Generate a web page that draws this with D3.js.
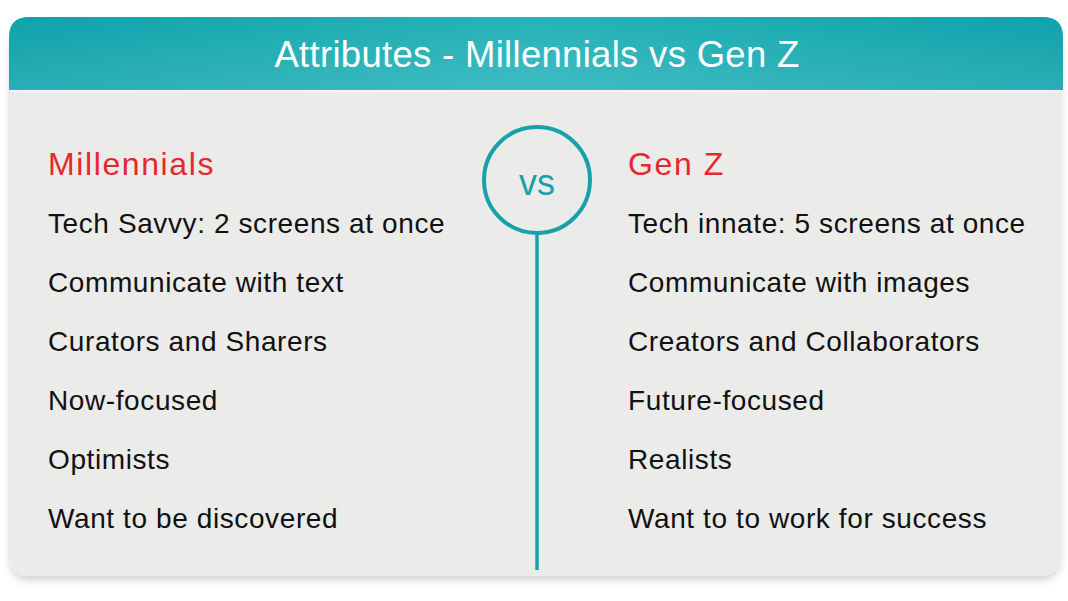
<!DOCTYPE html>
<html><head><meta charset="utf-8">
<script src="https://cdn.jsdelivr.net/npm/d3@7"></script>
<style>html,body{margin:0;padding:0;background:#fff;}svg{display:block;}</style>
</head><body>
<svg id="c" width="1068" height="601"></svg>
<script>
const title = "Attributes - Millennials vs Gen Z";
const groups = ["Millennials", "Gen Z"];
const millennials = ["Tech Savvy: 2 screens at once","Communicate with text","Curators and Sharers","Now-focused","Optimists","Want to be discovered"];
const genZ = ["Tech innate: 5 screens at once","Communicate with images","Creators and Collaborators","Future-focused","Realists","Want to to work for success"];
const vsLabel = "vs";

const svg = d3.select("#c");
const font = "'Liberation Sans', Arial, Helvetica, sans-serif";
const defs = svg.append("defs");
const g1 = defs.append("linearGradient").attr("id","hdr").attr("x1",0).attr("x2",1).attr("y1",0).attr("y2",0);
g1.append("stop").attr("offset","0%").attr("stop-color","#0ea2ab");
g1.append("stop").attr("offset","50%").attr("stop-color","#26b3b9");
g1.append("stop").attr("offset","100%").attr("stop-color","#0ea2ab");
const g2 = defs.append("linearGradient").attr("id","hdrv").attr("x1",0).attr("x2",0).attr("y1",0).attr("y2",1);
g2.append("stop").attr("offset","0%").attr("stop-color","#ffffff").attr("stop-opacity",0);
g2.append("stop").attr("offset","100%").attr("stop-color","#ffffff").attr("stop-opacity",0.12);
const f = defs.append("filter").attr("id","sh").attr("x","-5%").attr("y","-5%").attr("width","110%").attr("height","115%");
f.append("feDropShadow").attr("dx",0).attr("dy",4).attr("stdDeviation",4).attr("flood-color","#000").attr("flood-opacity",0.18);

// body card
svg.append("rect").attr("x",10).attr("y",30).attr("width",1050).attr("height",546).attr("rx",18)
  .attr("fill","#ebebe9").attr("filter","url(#sh)");
// header
const hdrPath = "M9,90 L9,37 Q9,17 29,17 L1043,17 Q1063,17 1063,37 L1063,90 Z";
svg.append("path").attr("d",hdrPath).attr("fill","url(#hdr)");
svg.append("path").attr("d",hdrPath).attr("fill","url(#hdrv)");
svg.append("rect").attr("x",10).attr("y",90).attr("width",1050).attr("height",2).attr("fill","#f4f4f3");

svg.append("text").attr("x",537).attr("y",67).attr("text-anchor","middle")
  .attr("font-family",font).attr("font-size",36.5).attr("letter-spacing",0.3).attr("fill","#fff").text(title);

// divider
const teal = "#17a2ab";
svg.append("line").attr("x1",537).attr("x2",537).attr("y1",233).attr("y2",570).attr("stroke",teal).attr("stroke-width",3.5);
svg.append("circle").attr("cx",537).attr("cy",180).attr("r",53).attr("fill","none").attr("stroke",teal).attr("stroke-width",4);
svg.append("text").attr("x",537).attr("y",195).attr("text-anchor","middle")
  .attr("font-family",font).attr("font-size",36).attr("fill",teal).text(vsLabel);

const y = d3.scalePoint().domain(d3.range(millennials.length)).range([233,528]);
const cols = [{name:groups[0], items:millennials, x:48},{name:groups[1], items:genZ, x:628}];
const col = svg.selectAll("g.col").data(cols).join("g").attr("class","col");
col.append("text").attr("x",d=>d.x).attr("y",175).attr("font-family",font).attr("font-size",32)
  .attr("letter-spacing",1.6).attr("fill","#e8262e").text(d=>d.name);
col.selectAll("text.item").data(d=>d.items.map((t,i)=>({t,i,x:d.x}))).join("text").attr("class","item")
  .attr("x",d=>d.x).attr("y",d=>y(d.i)).attr("font-family",font).attr("font-size",28)
  .attr("letter-spacing",0.6).attr("fill","#111").text(d=>d.t);
</script>
</body></html>
